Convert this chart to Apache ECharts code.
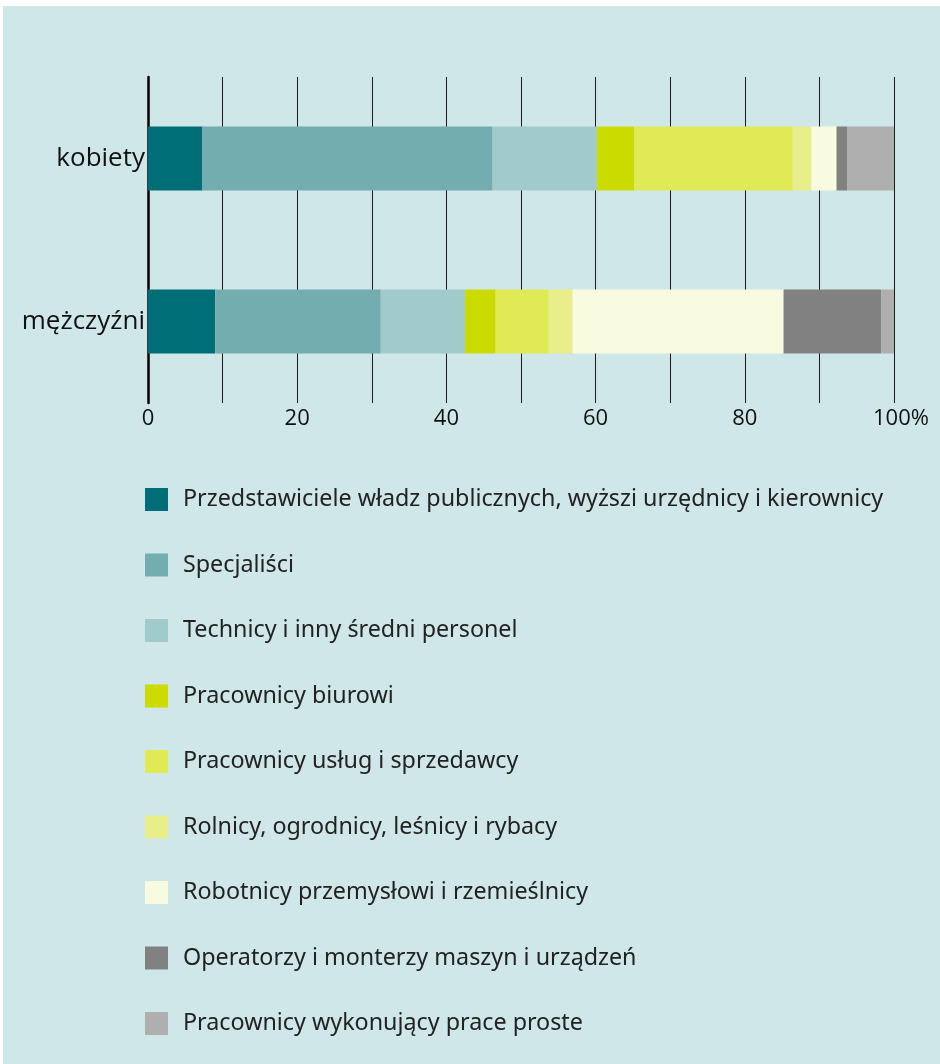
<!DOCTYPE html>
<html>
<head>
<meta charset="utf-8">
<script src="https://cdn.jsdelivr.net/npm/echarts@6/dist/echarts.min.js"></script>
<style>
  html, body { margin: 0; padding: 0; background: #ffffff; }
  #chart { position: absolute; left: 3px; top: 6px; width: 937px; height: 1058px; background: #d0e7e9; }
</style>
</head>
<body>
<div id="chart"></div>
<script>
const categories = ['kobiety', 'mężczyźni'];

const groups = [
  'Przedstawiciele władz publicznych, wyższi urzędnicy i kierownicy',
  'Specjaliści',
  'Technicy i inny średni personel',
  'Pracownicy biurowi',
  'Pracownicy usług i sprzedawcy',
  'Rolnicy, ogrodnicy, leśnicy i rybacy',
  'Robotnicy przemysłowi i rzemieślnicy',
  'Operatorzy i monterzy maszyn i urządzeń',
  'Pracownicy wykonujący prace proste'
];

// shares in %, one entry per group
const womenValues = [7.3, 38.9, 14.0, 5.0, 21.2, 2.5, 3.4, 1.4, 6.3];
const menValues = [9.0, 22.2, 11.3, 4.1, 7.1, 3.2, 28.3, 13.1, 1.7];

const colors = ['#006e76', '#73adaf', '#a1cbcb', '#cbdb00', '#e0ea55', '#e8ee8a', '#f8fbe0', '#818181', '#afafaf'];

const chart = echarts.init(document.getElementById('chart'));

const series = groups.map((name, i) => ({
  name: name,
  type: 'bar',
  stack: 'total',
  barWidth: 64,
  data: [womenValues[i], menValues[i]],
  itemStyle: { color: colors[i] },
  emphasis: { disabled: true }
}));

chart.setOption({
  animation: false,
  color: colors,
  grid: { left: 145, right: 46, top: 71, height: 326 },
  xAxis: {
    type: 'value',
    min: 0,
    max: 100,
    interval: 10,
    axisLine: { show: false },
    axisTick: { show: false },
    splitLine: { show: true, lineStyle: { color: '#1a1a1a', width: 1 } },
    axisLabel: {
      margin: 5,
      fontFamily: 'Open Sans',
      fontSize: 22,
      color: '#111',
      formatter: v => {
        if (v % 20 !== 0) return '';
        return v === 100 ? '{pct|100%}' : String(v);
      },
      rich: {
        pct: { fontFamily: 'Open Sans', fontSize: 22, color: '#111', padding: [0, 0, 0, 14] }
      }
    }
  },
  yAxis: {
    type: 'category',
    inverse: true,
    data: categories,
    axisLine: { show: true, lineStyle: { color: '#000', width: 2.5 } },
    axisTick: { show: false },
    axisLabel: { margin: 3, fontFamily: 'Open Sans', fontSize: 26, color: '#111' }
  },
  legend: {
    orient: 'vertical',
    left: 142,
    top: 482,
    padding: 0,
    itemWidth: 23,
    itemHeight: 23,
    itemGap: 42.5,
    icon: 'rect',
    selectedMode: false,
    data: groups,
    textStyle: {
      fontFamily: 'Noto Sans',
      fontSize: 23.3,
      lineHeight: 23,
      color: '#222',
      padding: [0, 0, 0, 10]
    }
  },
  series: series
});
</script>
</body>
</html>
